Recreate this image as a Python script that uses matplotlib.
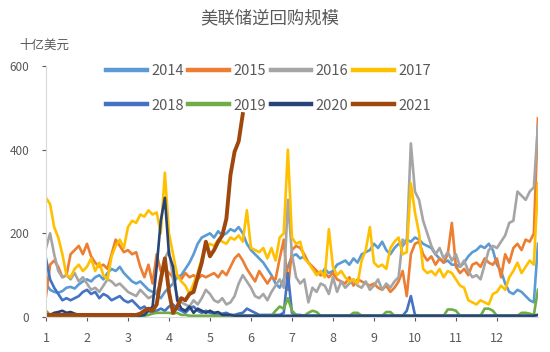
import numpy as np
import matplotlib.pyplot as plt

plt.rcParams['font.family'] = ['Noto Sans CJK SC', 'DejaVu Sans']

# repo volumes, billions USD, sampled every 0.1 month (x = 1.0 .. 13.0)
y2014 = [80, 65, 60, 58, 62, 70, 72, 68, 78, 85,
         90, 85, 95, 100, 90, 105, 115, 110, 120, 105,
         95, 85, 80, 85, 75, 65, 60, 55, 45, 60,
         70, 80, 95, 100, 115, 130, 150, 175, 190, 195,
         200, 190, 205, 195, 200, 210, 205, 215, 200, 175,
         160, 150, 140, 130, 115, 100, 80, 70, 90, 120,
         145, 150, 140, 145, 130, 120, 110, 100, 115, 105,
         110, 125, 130, 135, 125, 140, 130, 150, 155, 160,
         175, 165, 180, 160, 150, 165, 175, 170, 185, 180,
         190, 185, 175, 170, 165, 150, 140, 130, 135, 125,
         125, 120, 130, 145, 155, 160, 170, 165, 175, 160,
         125, 110, 80, 60, 55, 65, 60, 50, 40, 35, 175]
y2015 = [50, 125, 135, 120, 95, 100, 150, 160, 170, 150,
         175, 145, 130, 120, 125, 115, 150, 185, 170, 155,
         160, 150, 155, 120, 95, 125, 80, 150, 110, 115,
         105, 95, 100, 90, 105, 95, 100, 90, 100, 95,
         100, 105, 95, 110, 100, 120, 140, 150, 135, 115,
         100, 85, 110, 95, 80, 95, 90, 140, 185, 65,
         160, 170, 165, 150, 130, 120, 110, 100, 105, 95,
         105, 90, 85, 80, 95, 75, 90, 85, 80, 75,
         80, 70, 65, 75, 60, 70, 85, 110, 50, 150,
         175, 180, 150, 135, 145, 125, 140, 130, 150, 225,
         120, 105, 115, 100, 125, 130, 120, 140, 130, 125,
         140, 95, 150, 130, 165, 175, 160, 185, 180, 200, 475]
y2016 = [165, 200, 150, 110, 95, 100, 90, 105, 85, 95,
         80, 65, 70, 60, 75, 90, 85, 75, 80, 70,
         60, 55, 50, 65, 55, 45, 50, 60, 80, 140,
         160, 90, 50, 35, 30, 25, 40, 30, 45, 65,
         55, 40, 35, 45, 30, 35, 50, 80, 100, 85,
         70, 50, 45, 55, 40, 60, 75, 90, 70, 280,
         150, 95, 80, 90, 35, 70, 60, 80, 75, 55,
         95, 60, 85, 70, 80, 90, 75, 70, 85, 65,
         75, 90, 65, 80, 70, 85, 95, 185, 175, 415,
         300, 280, 230, 200, 170, 150, 165, 140, 155, 135,
         150, 120, 135, 110, 95, 100, 90, 125, 160, 170,
         165, 180, 195, 225, 230, 300, 290, 280, 300, 310, 460]
y2017 = [285, 270, 215, 190, 150, 100, 95, 115, 125, 110,
         120, 140, 110, 130, 100, 90, 145, 170, 185, 165,
         215, 230, 225, 245, 240, 255, 245, 250, 200, 345,
         200, 150, 100, 85, 75, 55, 80, 105, 140, 165,
         175, 170, 185, 180, 175, 190, 185, 195, 180, 255,
         165, 160, 155, 165, 140, 165, 135, 190, 200, 400,
         190, 175, 180, 140, 130, 115, 100, 110, 95, 210,
         120, 100, 110, 95, 85, 90, 80, 135, 160, 215,
         130, 120, 125, 115, 165, 180, 190, 150, 155, 320,
         250, 200, 115, 105, 110, 100, 115, 95, 110, 105,
         90, 75, 70, 40, 35, 30, 40, 35, 30, 55,
         60, 75, 65, 95, 110, 130, 105, 120, 135, 125, 320]
y2018 = [140, 90, 70, 55, 40, 45, 40, 45, 50, 60,
         65, 55, 60, 45, 55, 50, 40, 45, 50, 40,
         35, 40, 30, 20, 25, 15, 10, 15, 20, 15,
         25, 30, 20, 15, 10, 20, 25, 15, 10, 15,
         10, 8, 5, 8, 10, 5, 5, 8, 10, 20,
         15, 10, 5, 5, 5, 5, 5, 5, 10, 105,
         10, 5, 5, 3, 3, 3, 3, 3, 3, 3,
         3, 3, 3, 3, 3, 3, 3, 3, 3, 3,
         3, 3, 3, 3, 3, 3, 3, 3, 15, 50,
         5, 3, 3, 3, 3, 3, 3, 3, 3, 3,
         3, 3, 3, 3, 3, 3, 3, 3, 3, 3,
         3, 3, 3, 3, 3, 3, 3, 3, 3, 3, 5]
y2019 = [15, 5, 3, 3, 3, 3, 3, 3, 3, 3,
         3, 3, 3, 3, 3, 3, 3, 3, 3, 3,
         3, 3, 3, 3, 3, 5, 8, 10, 10, 10,
         10, 8, 10, 5, 5, 3, 3, 3, 3, 3,
         3, 3, 3, 3, 3, 3, 3, 3, 3, 3,
         3, 3, 3, 3, 3, 3, 15, 25, 20, 45,
         15, 5, 3, 3, 10, 15, 12, 3, 3, 3,
         3, 3, 3, 3, 3, 10, 10, 3, 3, 3,
         3, 3, 3, 12, 12, 3, 3, 3, 3, 3,
         3, 3, 3, 3, 3, 3, 3, 3, 18, 18,
         15, 3, 3, 3, 3, 3, 3, 20, 20, 15,
         3, 3, 3, 3, 3, 3, 10, 10, 8, 5, 65]
y2020 = [3, 5, 10, 12, 15, 10, 12, 8, 5, 5,
         3, 3, 3, 3, 3, 3, 3, 3, 3, 3,
         3, 3, 3, 3, 5, 15, 25, 120, 230, 285,
         150, 120, 40, 20, 15, 25, 10, 20, 15, 10,
         15, 10, 12, 5, 5, 5, 3, 3, 3, 3,
         3, 3, 3, 3, 3, 3, 3, 3, 3, 3,
         3, 3, 3, 3, 3, 3, 3, 3, 3, 3,
         3, 3, 3, 3, 3, 3, 3, 3, 3, 3,
         3, 3, 3, 3, 3, 3, 3, 3, 3, 3,
         3, 3, 3, 3, 3, 3, 3, 3, 3, 3,
         3, 3, 3, 3, 3, 3, 3, 3, 3, 3,
         3, 3, 3, 3, 3, 3, 3, 3, 3, 3, 5]
y2021 = [5, 5, 5, 5, 5, 5, 5, 5, 5, 5,
         5, 5, 5, 5, 5, 5, 5, 5, 5, 5,
         5, 5, 5, 8, 15, 20, 15, 30, 90, 140,
         60, 10, 25, 45, 40, 55, 60, 95, 130, 180,
         145, 160, 180, 195, 235, 340, 395, 420, 485]

years = ['2014', '2015', '2016', '2017', '2018', '2019', '2020', '2021']
series = [y2014, y2015, y2016, y2017, y2018, y2019, y2020, y2021]
colors = ['#5B9BD5', '#ED7D31', '#A5A5A5', '#FFC000',
          '#4472C4', '#70AD47', '#264478', '#9E480E']
months = list(range(1, 13))

fig = plt.figure(figsize=(5.5, 3.52), dpi=100)
ax = fig.add_axes([0.0836, 0.0994, 0.8945, 0.7131])

lines = {}
for yr, vals, c in zip(years, series, colors):
    x = 1 + np.arange(len(vals)) / 10
    lw = 2.8 if yr == '2021' else 1.9
    lines[yr], = ax.plot(x, vals, color=c, lw=lw, label=yr, solid_joinstyle='round')

ax.set_xlim(1, 13)
ax.set_ylim(0, 600)
ax.set_yticks([0, 200, 400, 600])
ax.set_xticks(months)
ax.tick_params(colors='#595959', length=3, width=0.8)
ax.tick_params(axis='x', pad=8, labelsize=9)
ax.tick_params(axis='y', pad=9, labelsize=8.5)
for s in ['top', 'right']:
    ax.spines[s].set_visible(False)
for s in ['left', 'bottom']:
    ax.spines[s].set_color('#D9D9D9')

fig.text(0.49, 0.948, '美联储逆回购规模', ha='center', va='center',
         fontsize=12.5, color='#595959')
fig.text(0.035, 0.872, '十亿美元', ha='left', va='center',
         fontsize=9, color='#595959')

# legend filled column by column, so interleave the two rows
order = ['2014', '2018', '2015', '2019', '2016', '2020', '2017', '2021']
leg = fig.legend([lines[k] for k in order], order, loc='center',
                 bbox_to_anchor=(0.488, 0.749), ncol=4, frameon=False,
                 fontsize=10.5, handlelength=2.8, columnspacing=0.3,
                 handletextpad=0.3, labelspacing=1.4)
for t in leg.get_texts():
    t.set_color('#595959')
for h in leg.legend_handles:
    h.set_linewidth(3.2)

fig.savefig('out.png', dpi=100)
